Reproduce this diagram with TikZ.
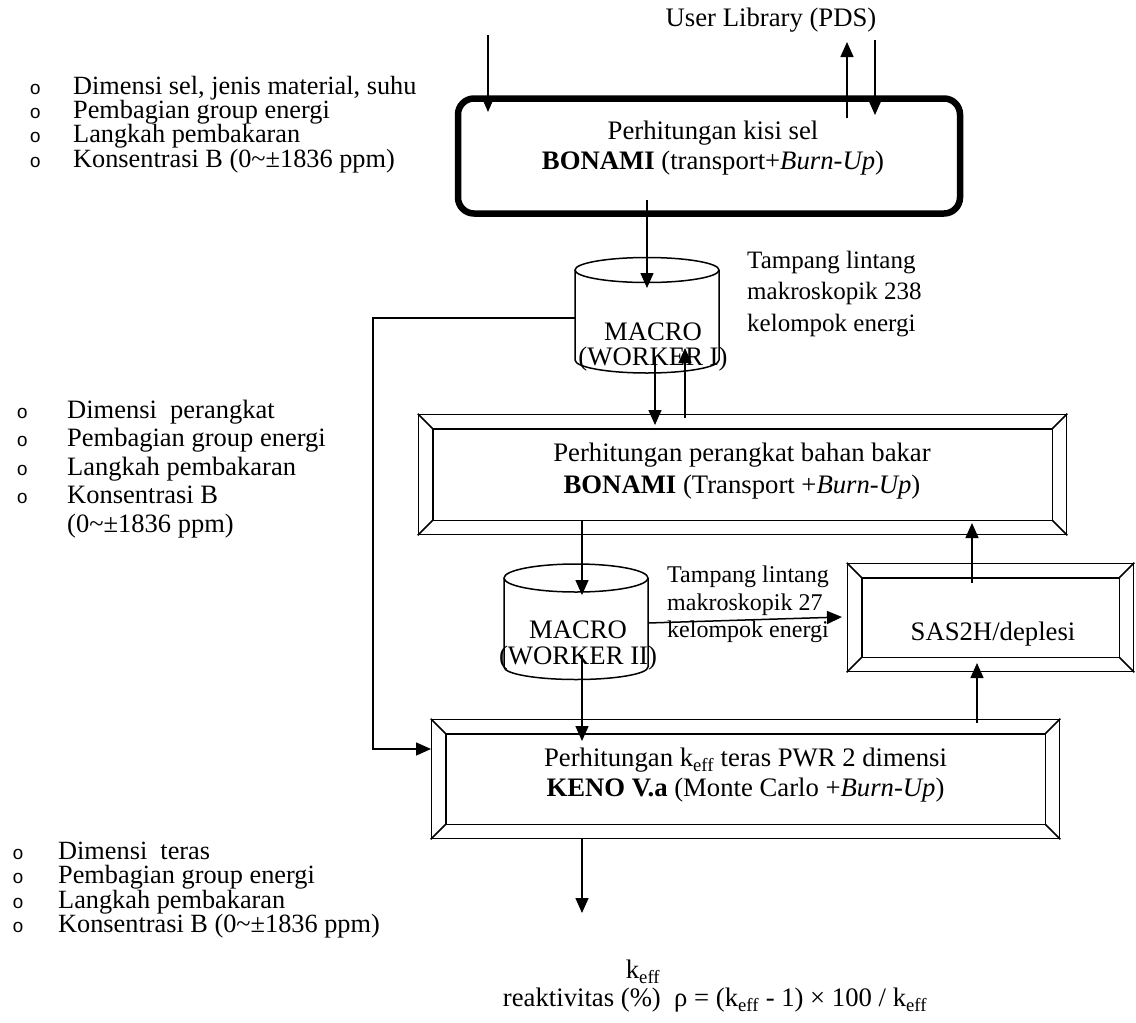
\documentclass[tikz,border=0pt]{standalone}
\usepackage{fontspec}
\setmainfont{Liberation Serif}
\newfontfamily\bulfont{Liberation Mono}
\usetikzlibrary{arrows.meta,calc}
\newcommand\bul{{\bulfont\fontsize{19pt}{19pt}\selectfont o}}
\newcommand\fsz[2]{\fontsize{#1}{#2}\selectfont\lineskiplimit=-40pt\relax}
\newcommand\bevelin[2]{%
  \draw[ln] ($(#1.north west)+(#2,#2)$) rectangle ($(#1.south east)+(-#2,-#2)$);
  \draw[ln] (#1.north west) -- ++(#2,#2) (#1.north east) -- ++(-#2,#2)
            (#1.south west) -- ++(#2,-#2) (#1.south east) -- ++(-#2,-#2);
}
\begin{document}
\begin{tikzpicture}[x=1pt,y=-1pt,
  ln/.style={line width=1.5pt},
  arr/.style={ln,-{Triangle[width=13pt,length=15pt]}},
  arrsm/.style={ln,-{Triangle[width=10pt,length=12pt]}},
  bevelbox/.style={draw,line width=1.5pt,rectangle,inner sep=0pt},
  txt/.style={inner sep=0pt,font=\fsz{26.7pt}{30pt}}]
\useasboundingbox (0,0) rectangle (1136,1023);

% ---- boxes
\node[draw,line width=6.5pt,rounded corners=16pt,minimum width=502pt,minimum height=115pt,inner sep=0pt] (kisi) at (709,156) {};
\node[bevelbox,minimum width=648pt,minimum height=120pt] (box1) at (742.5,474.5) {};
\bevelin{box1}{15}
\node[bevelbox,minimum width=628pt,minimum height=119pt] (keno) at (745.5,779) {};
\bevelin{keno}{15}
\node[bevelbox,minimum width=286pt,minimum height=108pt] (sas) at (990.5,617.5) {};
\bevelin{sas}{15}

% ---- cylinders
\draw[ln] (575,270) -- (575,360) arc[start angle=180,end angle=360,x radius=72pt,y radius=13pt] -- (719,270);
\draw[ln] (647,270) ellipse [x radius=72pt,y radius=12.5pt];
\draw[ln] (504,578) -- (504,667) arc[start angle=180,end angle=360,x radius=72pt,y radius=12.5pt] -- (648,578);
\draw[ln] (576,578) ellipse [x radius=72pt,y radius=14pt];

% ---- texts
\node[txt] (user) at (771,20) {User Library (PDS)};
\node[txt,align=center] (kisitxt) at (713,148) {Perhitungan kisi sel\\\textbf{BONAMI} (transport+\textit{Burn-Up})};
\node[txt,align=center,font=\fsz{26.7pt}{32pt}] (box1txt) at (742,471) {Perhitungan perangkat bahan bakar\\\textbf{BONAMI} (Transport +\textit{Burn-Up})};
\node[txt,align=center] (kenotxt) at (745.5,775) {Perhitungan k\textsubscript{eff} teras PWR 2 dimensi\\\textbf{KENO V.a} (Monte Carlo +\textit{Burn-Up})};
\node[txt] (sastxt) at (993,634) {SAS2H/deplesi};
\node[txt,align=center,font=\fsz{26.7pt}{25.5pt}] (cyl1) at (653,347) {MACRO\\(WORKER I)};
\node[txt,align=center,font=\fsz{26.7pt}{26pt}] (cyl2) at (578,645) {MACRO\\(WORKER II)};
\node[txt,align=left,anchor=west,font=\fsz{25pt}{31.5pt}] (xs238) at (747,293.7) {Tampang lintang\\makroskopik 238\\kelompok energi};
\node[txt,align=left,anchor=west,font=\fsz{24pt}{27.5pt}] (xs27) at (667,604.7) {Tampang lintang\\makroskopik 27\\kelompok energi};

\node[txt,align=left,anchor=west,font=\fsz{26.3pt}{24.3pt}] (list1) at (29.5,124.5) {%
\makebox[43.5pt][l]{\bul}Dimensi sel, jenis material, suhu\\
\makebox[43.5pt][l]{\bul}Pembagian group energi\\
\makebox[43.5pt][l]{\bul}Langkah pembakaran\\
\makebox[43.5pt][l]{\bul}Konsentrasi B (0\textasciitilde±1836 ppm)};
\node[txt,align=left,anchor=west,font=\fsz{26.5pt}{28.5pt}] (list2) at (16.3,469) {%
\makebox[50.7pt][l]{\bul}Dimensi\ \ perangkat\\
\makebox[50.7pt][l]{\bul}Pembagian group energi\\
\makebox[50.7pt][l]{\bul}Langkah pembakaran\\
\makebox[50.7pt][l]{\bul}Konsentrasi B\\
\makebox[50.7pt][l]{}(0\textasciitilde±1836 ppm)};
\node[txt,align=left,anchor=west,font=\fsz{26.3pt}{24.3pt}] (list3) at (12.3,890) {%
\makebox[45.7pt][l]{\bul}Dimensi\ \ teras\\
\makebox[45.7pt][l]{\bul}Pembagian group energi\\
\makebox[45.7pt][l]{\bul}Langkah pembakaran\\
\makebox[45.7pt][l]{\bul}Konsentrasi B (0\textasciitilde±1836 ppm)};

\node[txt] (keff) at (643,972) {k\textsubscript{eff}};
\node[txt] (rho) at (715,1000) {reaktivitas (\%)\ \ ρ = (k\textsubscript{eff} - 1) × 100 / k\textsubscript{eff}};

% ---- coordinates for connector ends
\coordinate (inA) at (488,35);
\coordinate (inAt) at (488,112);
\coordinate (pdsUpS) at (847,118);
\coordinate (pdsUpT) at (847,42);
\coordinate (pdsDnS) at (875,40);
\coordinate (pdsDnT) at (875,115);
\coordinate (kisiOut) at (647,200);
\coordinate (c1in) at (647,288);
\coordinate (c1dnS) at (655,357);
\coordinate (b1inT) at (655,425);
\coordinate (b1upS) at (685,418);
\coordinate (c1upT) at (685,348);
\coordinate (c1w) at (575,318);
\coordinate (loopA) at (373,318);
\coordinate (loopB) at (373,749);
\coordinate (kenoW) at (431,749);
\coordinate (b1out) at (582,520);
\coordinate (c2in) at (582,595);
\coordinate (c2e) at (648,623);
\coordinate (sasW) at (842,617);
\coordinate (c2out) at (582,655);
\coordinate (kenoIn) at (582,741);
\coordinate (sasUpS) at (972,583);
\coordinate (b1T) at (972,523);
\coordinate (kenoUpS) at (977,723);
\coordinate (sasT) at (977,663);
\coordinate (kenoOut) at (582,839);
\coordinate (resT) at (582,913);

% ---- connectors
\draw[arrsm] (inA) -- (inAt);
\draw[arr] (pdsUpS) -- (pdsUpT);
\draw[arr] (pdsDnS) -- (pdsDnT);
\draw[arr] (kisiOut) -- (c1in);
\draw[arr] (c1dnS) -- (b1inT);
\draw[arr] (b1upS) -- (c1upT);
\draw[arr] (c1w) -- (loopA) -- (loopB) -- (kenoW);
\draw[arr] (b1out) -- (c2in);
\draw[arr] (c2e) -- (sasW);
\draw[arr] (c2out) -- (kenoIn);
\draw[arr] (sasUpS) -- (b1T);
\draw[arr] (kenoUpS) -- (sasT);
\draw[arr] (kenoOut) -- (resT);
\end{tikzpicture}
\end{document}
